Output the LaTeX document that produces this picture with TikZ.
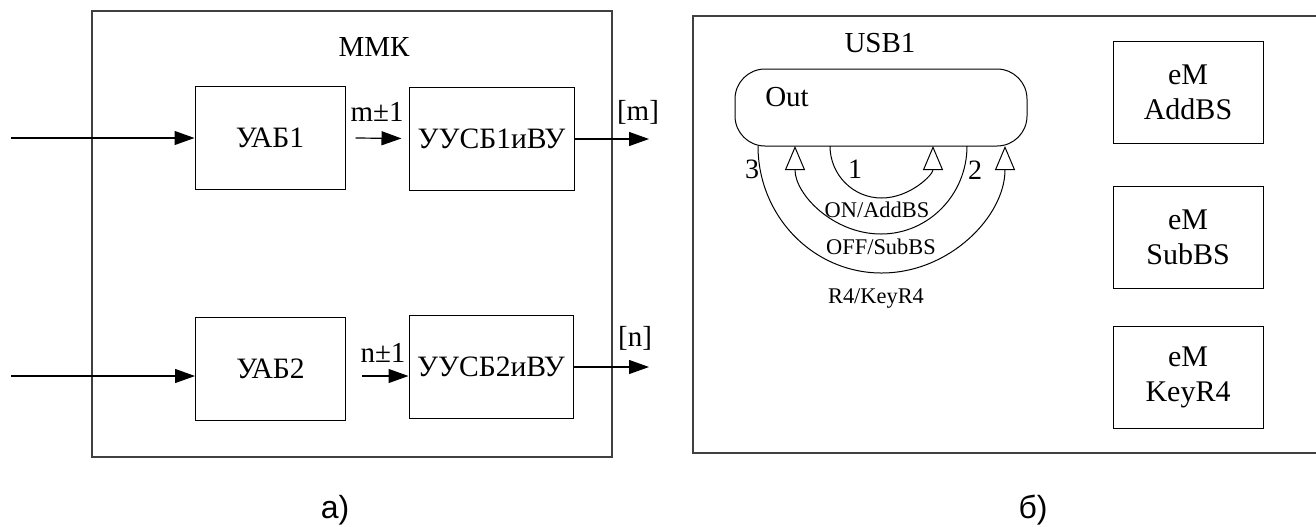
\documentclass[tikz,border=0pt]{standalone}
\usepackage{fontspec}
\setmainfont{Liberation Serif}
\newfontfamily\captfont{Liberation Sans}
\usetikzlibrary{arrows.meta}
\tikzset{
  blk/.style={draw, line width=0.5pt, minimum width=75pt, minimum height=51.5pt, inner sep=0pt, font=\fontsize{14.8}{17}\selectfont},
  emblk/.style={draw, line width=0.5pt, minimum width=75pt, minimum height=51pt, inner sep=0pt, align=center, font=\fontsize{15}{17.5}\selectfont},
  lbl/.style={inner sep=0pt, font=\fontsize{14.5}{17}\selectfont},
  arclbl/.style={inner sep=0pt, font=\fontsize{11.2}{13}\selectfont},
  capt/.style={inner sep=0pt, font=\captfont\fontsize{16}{19}\selectfont},
  sig/.style={-{Triangle[length=10pt,width=7pt]}, line width=0.6pt},
  trans/.style={-{Triangle[open,length=12pt,width=10pt]}, line width=0.5pt},
}
\begin{document}
\begin{tikzpicture}[x=0.5pt, y=-0.5pt]
    \useasboundingbox (0,0) rectangle (1316,526);
    % panel a: frame and title
    \draw[line width=0.6pt, black!75] (92,11) rectangle (612,457);
    \node[lbl] (mmk) at (374,47) {ММК};
    % panel a: blocks
    \node[blk] (uab1) at (270,138) {УАБ1};
    \node[blk, minimum width=82.5pt] (uusb1) at (491.5,138.5) {УУСБ1иВУ};
    \node[blk] (uab2) at (270.5,369) {УАБ2};
    \node[blk, minimum width=82pt] (uusb2) at (491,366.5) {УУСБ2иВУ};
    % panel a: inputs
    \coordinate (in1) at (11,138);
    \coordinate (in2) at (11,376);
    \draw[sig] (in1) -- (uab1.west);
    \draw[sig] (in2) -- (in2 -| uab2.west);
    % panel a: links between blocks
    \draw[sig, shorten >=3.5pt] ([xshift=5pt]uab1.east) -- (uusb1.west);
    \node[lbl] (mlbl) at (377,112) {m±1};
    \coordinate (n0) at (362,376);
    \draw[sig] (n0) -- (n0 -| uusb2.west);
    \node[lbl] (nlbl) at (383,353) {n±1};
    % panel a: outputs
    \coordinate (out1) at (649,139);
    \coordinate (out2) at (649,367);
    \draw[sig] (uusb1.east |- out1) -- (out1);
    \draw[sig] (uusb2.east |- out2) -- (out2);
    \node[lbl] (mout) at (638,112) {[m]};
    \node[lbl] (nout) at (635,338) {[n]};
    % panel b: frame and title
    \draw[line width=0.6pt, black!75] (1316,16) -- (693,16) -- (693,453) -- (1316,453);
    \node[lbl] (usb) at (880,43) {USB1};
    % panel b: state
    \node[draw, rounded corners=15pt, line width=0.5pt, minimum width=146pt, minimum height=38.5pt] (outst) at (881,107.5) {};
    \node[lbl] (outlbl) at (787,97) {Out};
    % panel b: transitions
    \coordinate (p1) at (830,146);
    \coordinate (p2) at (967,146);
    \coordinate (p3) at (758,146);
    \draw[trans] (p1) arc[start angle=180, end angle=0, x radius=51.5, y radius=52];
    \draw[trans] (p2) arc[start angle=0, end angle=180, x radius=86, y radius=88];
    \draw[trans] (p3) arc[start angle=180, end angle=0, x radius=123.5, y radius=127];
    \node[lbl, font=\fontsize{14}{16}\selectfont] (t1) at (855,169) {1};
    \node[lbl, font=\fontsize{14}{16}\selectfont] (t2) at (975,170) {2};
    \node[lbl, font=\fontsize{14}{16}\selectfont] (t3) at (752,169) {3};
    \node[arclbl] (onlbl) at (877,210) {ON/AddBS};
    \node[arclbl] (offlbl) at (881,247) {OFF/SubBS};
    \node[arclbl] (r4lbl) at (876,299) {R4/KeyR4};
    % panel b: elements
    \node[emblk] (addbs) at (1188,92) {eM\\AddBS};
    \node[emblk] (subbs) at (1188,237.5) {eM\\SubBS};
    \node[emblk] (keyr4) at (1188,377.5) {eM\\KeyR4};
    % captions
    \node[capt] (capa) at (335,510) {а)};
    \node[capt] (capb) at (1033,510) {б)};
\end{tikzpicture}
\end{document}
